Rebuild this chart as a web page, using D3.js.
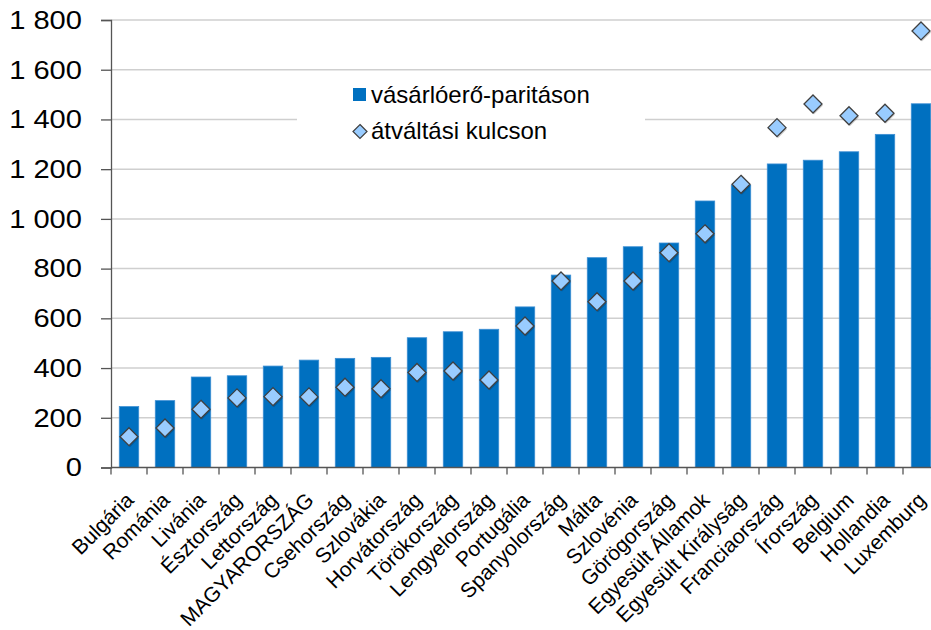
<!DOCTYPE html>
<html>
<head>
<meta charset="utf-8">
<script src="https://cdn.jsdelivr.net/npm/d3@7/dist/d3.min.js"></script>
<style>
  html, body { margin: 0; padding: 0; background: #fff; }
  svg { display: block; font-family: "Liberation Sans", Arial, sans-serif; }
</style>
</head>
<body>
<svg id="chart" width="931" height="630"></svg>
<script>
// Countries, ordered by GDP per capita at purchasing power parity
const countries = [
  "Bulgária", "Románia", "Livánia", "Észtország", "Lettország", "MAGYARORSZÁG",
  "Csehország", "Szlovákia", "Horvátország", "Törökország", "Lengyelország",
  "Portugália", "Spanyolország", "Málta", "Szlovénia", "Görögország",
  "Egyesült Államok", "Egyesült Királyság", "Franciaország", "Írország",
  "Belgium", "Hollandia", "Luxemburg"
];
// at purchasing power parity (bars)
const pppValues = [
  245, 269, 364, 369, 408, 432, 439, 443, 522, 546, 556,
  646, 774, 844, 888, 903, 1072, 1136, 1221, 1236, 1270, 1340, 1463
];
// at market exchange rates (diamonds)
const fxValues = [
  124, 159, 234, 280, 285, 284, 323, 317, 382, 388, 352,
  569, 750, 667, 750, 864, 940, 1139, 1367, 1462, 1415, 1425, 1756
];
const yTicks = [0, 200, 400, 600, 800, 1000, 1200, 1400, 1600, 1800];
const seriesNames = ["vásárlóerő-paritáson", "átváltási kulcson"];

const svg = d3.select("#chart");
const W = 931;
const plotLeft = 111, plotRight = 939, plotTop = 20, plotBottom = 467.5;

const x = d3.scaleBand().domain(countries).range([plotLeft, plotRight])
  .paddingInner(0.46).paddingOuter(0.23);
const y = d3.scaleLinear().domain([0, 1800]).range([plotBottom, plotTop]);

const fmt = v => d3.format(",")(v).replace(/,/g, "\u00a0");

// horizontal gridlines
svg.append("g").selectAll("line").data(yTicks.filter(d => d > 0)).join("line")
  .attr("x1", plotLeft).attr("x2", W)
  .attr("y1", d => y(d)).attr("y2", d => y(d))
  .attr("stroke", "#cfcfcf").attr("stroke-width", 1.5);

// legend box (white background hiding gridlines)
const legend = svg.append("g");
legend.append("rect").attr("x", 297).attr("y", 76).attr("width", 348).attr("height", 82)
  .attr("fill", "#fff");

// bars
svg.append("g").selectAll("rect").data(countries).join("rect")
  .attr("x", d => x(d))
  .attr("width", x.bandwidth())
  .attr("y", (d, i) => y(pppValues[i]))
  .attr("height", (d, i) => y(0) - y(pppValues[i]))
  .attr("fill", "#0070c0")
  .attr("stroke", "#3d8fd4").attr("stroke-width", 0.8);

// diamond markers with a soft drop shadow
const diamond = s => `M0,${-s}L${s},0L0,${s}L${-s},0Z`;
svg.append("g").selectAll("path").data(countries).join("path")
  .attr("d", diamond(9))
  .attr("transform", (d, i) => `translate(${x(d) + x.bandwidth() / 2 + 1},${y(fxValues[i]) + 1.5})`)
  .attr("fill", "rgba(0,0,0,0.18)");
svg.append("g").selectAll("path").data(countries).join("path")
  .attr("d", diamond(9))
  .attr("transform", (d, i) => `translate(${x(d) + x.bandwidth() / 2},${y(fxValues[i])})`)
  .attr("fill", "#99ccff")
  .attr("stroke", "#3f3f3f").attr("stroke-width", 1.3);

// y axis
const yAxis = d3.axisLeft(y).tickValues(yTicks).tickSize(10).tickPadding(19).tickFormat(fmt);
const yg = svg.append("g").attr("transform", `translate(${plotLeft},0)`).call(yAxis);
yg.select(".domain").attr("stroke", "#555").attr("stroke-width", 1.3);
yg.selectAll(".tick line").attr("stroke", "#555").attr("stroke-width", 1.3);
yg.selectAll(".tick text")
  .attr("x", 0)
  .attr("transform", "translate(-29,0) scale(1.12,1)")
  .attr("font-size", 26).attr("fill", "#000")
  .attr("font-family", "Liberation Sans, Arial, sans-serif");

// x axis line and ticks at category boundaries
svg.append("line").attr("x1", plotLeft).attr("x2", W).attr("y1", plotBottom).attr("y2", plotBottom)
  .attr("stroke", "#555").attr("stroke-width", 1.3);
const step = x.step();
svg.append("g").selectAll("line").data(d3.range(countries.length + 1)).join("line")
  .attr("x1", k => plotLeft + k * step).attr("x2", k => plotLeft + k * step)
  .attr("y1", plotBottom).attr("y2", plotBottom + 7)
  .attr("stroke", "#555").attr("stroke-width", 1.3);

// category labels, rotated
svg.append("g").selectAll("text").data(countries).join("text")
  .attr("transform", d => `translate(${x(d) + x.bandwidth() / 2 + 6},${plotBottom + 34}) rotate(-45)`)
  .attr("text-anchor", "end")
  .attr("font-size", 21)
  .attr("fill", "#000")
  .text(d => d);

// legend entries
legend.append("rect").attr("x", 353).attr("y", 88).attr("width", 13).attr("height", 13)
  .attr("fill", "#0070c0");
legend.append("text").attr("x", 371).attr("y", 103).attr("font-size", 24).attr("fill", "#000")
  .text(seriesNames[0]);
legend.append("path").attr("d", diamond(7))
  .attr("transform", "translate(360,131.5)")
  .attr("fill", "#99ccff").attr("stroke", "#3f3f3f").attr("stroke-width", 1.2);
legend.append("text").attr("x", 371).attr("y", 139).attr("font-size", 24).attr("fill", "#000")
  .text(seriesNames[1]);
</script>
</body>
</html>
